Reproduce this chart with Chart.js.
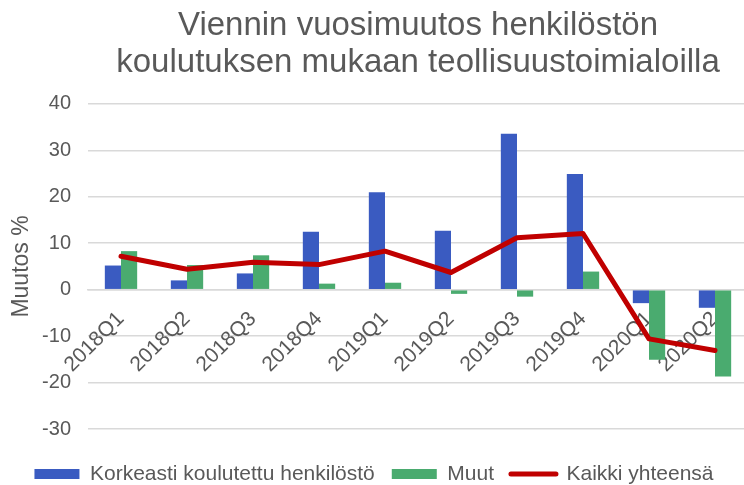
<!DOCTYPE html>
<html>
<head>
<meta charset="utf-8">
<script src="https://cdn.jsdelivr.net/npm/chart.js@4/dist/chart.umd.min.js"></script>
<style>
html,body{margin:0;padding:0;background:#fff;overflow:hidden;}
#wrap{width:750px;height:485px;}
</style>
</head>
<body>
<div id="wrap"><canvas id="c" width="750" height="485"></canvas></div>
<script>
const categories = ["2018Q1","2018Q2","2018Q3","2018Q4","2019Q1","2019Q2","2019Q3","2019Q4","2020Q1","2020Q2"];
const korkeasti = [5.2, 2.0, 3.5, 12.5, 21.0, 12.7, 33.6, 24.9, -2.9, -3.9];
const muut = [8.3, 5.3, 7.4, 1.3, 1.5, -0.9, -1.5, 3.9, -15.1, -18.7];
const kaikki = [7.2, 4.4, 5.9, 5.4, 8.3, 3.7, 11.2, 12.1, -10.6, -13.1];
const seriesNames = ["Korkeasti koulutettu henkilöstö", "Muut", "Kaikki yhteensä"];
const titleLines = ["Viennin vuosimuutos henkilöstön", "koulutuksen mukaan teollisuustoimialoilla"];
const yTitle = "Muutos %";

const FONT = "'Liberation Sans', Arial, sans-serif";
const GREY = "#595959";
Chart.defaults.font.family = FONT;
Chart.defaults.color = GREY;

new Chart(document.getElementById('c'), {
  type: 'bar',
  data: {
    labels: categories,
    datasets: [
      { label: seriesNames[0], data: korkeasti, backgroundColor: '#3a5bc1', borderWidth: 0, order: 1 },
      { label: seriesNames[1], data: muut, backgroundColor: '#4aab6f', borderWidth: 0, order: 1 },
      { type: 'line', label: seriesNames[2], data: kaikki, borderColor: '#c00000', backgroundColor: '#c00000',
        borderWidth: 5, pointRadius: 0, tension: 0, borderCapStyle: 'round', borderJoinStyle: 'round', order: 0 }
    ]
  },
  options: {
    responsive: false,
    animation: false,
    devicePixelRatio: 1,
    layout: { padding: { left: 0, right: 2, top: 0, bottom: -9.5 } },
    datasets: { bar: { categoryPercentage: 0.49, barPercentage: 1.0 } },
    plugins: {
      tooltip: { enabled: false },
      title: {
        display: true, text: titleLines, fullSize: false,
        font: { size: 33, weight: 'normal', lineHeight: 1.12 }, color: GREY,
        padding: { top: 7, bottom: 23 }
      },
      legend: {
        position: 'bottom',
        title: { display: true, text: ' ', padding: 0, font: { size: 17.5, lineHeight: 1 } },
        labels: {
          usePointStyle: true, pointStyleWidth: 45, boxHeight: 10,
          font: { size: 21 }, color: GREY, padding: 17,
          generateLabels(chart) {
            const items = Chart.defaults.plugins.legend.labels.generateLabels(chart);
            items.sort((a, b) => a.datasetIndex - b.datasetIndex);
            items.forEach(it => {
              if (it.datasetIndex === 2) {
                it.pointStyle = 'line'; it.lineWidth = 5; it.lineCap = 'round';
                it.strokeStyle = '#c00000'; it.fillStyle = '#c00000';
              } else {
                it.pointStyle = 'rect'; it.lineWidth = 0;
              }
            });
            return items;
          }
        }
      }
    },
    scales: {
      x: {
        position: { y: 0 },
        grid: { display: false, drawTicks: false },
        border: { display: true, color: '#d9d9d9', width: 1.5 },
        ticks: { autoSkip: false, minRotation: 45, maxRotation: 45, padding: 17, font: { size: 21 }, color: GREY }
      },
      y: {
        min: -30, max: 40,
        afterFit(scale) { scale.width = 88; },
        grid: { color: '#d9d9d9', lineWidth: 1.5, drawTicks: false },
        border: { display: false },
        ticks: { stepSize: 10, padding: 17, font: { size: 20 }, color: GREY },
        title: { display: true, text: yTitle, font: { size: 23 }, color: GREY, padding: { top: 8, bottom: 2 } }
      }
    }
  }
});
</script>
</body>
</html>
